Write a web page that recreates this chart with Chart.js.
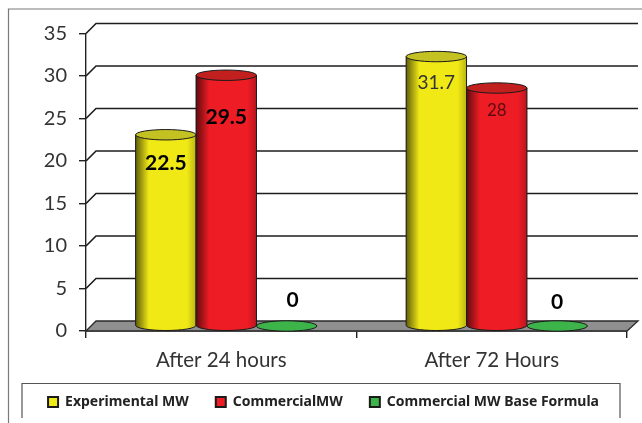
<!DOCTYPE html>
<html>
<head>
<meta charset="utf-8">
<style>
  html, body { margin: 0; padding: 0; background: #fff; overflow: hidden; }
  canvas { display: block; }
</style>
<script src="https://cdn.jsdelivr.net/npm/chart.js@4"></script>
</head>
<body>
<canvas id="mainChart" width="642" height="423"></canvas>
<script>
const categories = ['After 24 hours', 'After 72 Hours'];
const experimentalMW = [22.5, 31.7];
const commercialMW = [29.5, 28];
const baseFormulaMW = [0, 0];
const seriesNames = ['Experimental MW', 'CommercialMW', 'Commercial MW Base Formula'];
const seriesColors = ['#f0e916', '#ee1c25', '#3cb449'];
const topColors = ['#c4c223', '#c2201f', '#3cb449'];

const DEPTH = 10;      // how far the back wall sits from the front axes
const MID = DEPTH / 2; // cylinders stand in the middle of the floor
const RY = 5.2;        // ellipse half height

// label tweaks, [dataset][category]: dy from top of cylinder, dx, font
const labelDy = [[28, 26], [42, 23], [-26, -24]];
const labelDx = [[0, 0], [0, 0], [6, 0]];
const labelFont = [
  ['bold 21px Lato', '19px Lato'],
  ['bold 21px Lato', '17px Lato'],
  ['bold 21px Lato', 'bold 21px Lato']
];
const labelColor = [['#000', '#333'], ['#000', '#5a0d10'], ['#000', '#000']];

const wallsAndFrame = {
  id: 'wallsAndFrame',
  // legend sits a little right of the canvas centre in the original
  afterLayout(chart) {
    chart.legend.left += 10;
    chart.legend.right += 10;
  },
  beforeDatasetsDraw(chart) {
    const { ctx, chartArea: a, scales: { y } } = chart;
    ctx.save();
    // outer frame, runs off the picture
    ctx.strokeStyle = '#7a7a7a';
    ctx.lineWidth = 1.2;
    ctx.beginPath();
    ctx.moveTo(8.5, 423); ctx.lineTo(8.5, 9); ctx.lineTo(642, 9);
    ctx.stroke();
    // legend frame, open at the bottom
    ctx.strokeStyle = '#555';
    ctx.beginPath();
    ctx.moveTo(22, 418); ctx.lineTo(22, 383.5); ctx.lineTo(620, 383.5); ctx.lineTo(620, 418);
    ctx.stroke();
    // floor
    const y0 = y.getPixelForValue(0);
    ctx.fillStyle = '#8f8f8f';
    ctx.strokeStyle = '#2a2a2a';
    ctx.lineWidth = 1.3;
    ctx.beginPath();
    ctx.moveTo(a.left, y0);
    ctx.lineTo(a.left + DEPTH, y0 - DEPTH);
    ctx.lineTo(a.right + DEPTH + 1, y0 - DEPTH);
    ctx.lineTo(a.right, y0);
    ctx.closePath();
    ctx.fill(); ctx.stroke();
    // grid lines bent back on the side wall
    ctx.strokeStyle = '#1e1e1e';
    ctx.lineWidth = 1.6;
    y.ticks.forEach(t => {
      if (t.value === 0) return;
      const py = y.getPixelForValue(t.value);
      ctx.beginPath();
      ctx.moveTo(a.left, py);
      ctx.lineTo(a.left + DEPTH, py - DEPTH);
      ctx.lineTo(a.right + DEPTH + 1, py - DEPTH);
      ctx.stroke();
    });
    ctx.restore();
  },
  // keep the library's flat bars in the same place as the cylinders
  beforeDatasetDraw(chart) {
    chart.ctx.save();
    chart.ctx.translate(MID, -MID);
  },
  afterDatasetDraw(chart) {
    chart.ctx.restore();
  },
  afterDatasetsDraw(chart) {
    const { ctx } = chart;
    ctx.save();
    ctx.translate(MID, -MID);
    chart.data.datasets.forEach((ds, di) => {
      chart.getDatasetMeta(di).data.forEach((bar, i) => {
        const rx = bar.width / 2;
        const l = bar.x - rx, r = bar.x + rx;
        const top = bar.y, base = bar.base;
        ctx.lineWidth = 1;
        ctx.strokeStyle = '#1a1a1a';
        if (base - top > 1) {
          ctx.beginPath();
          ctx.moveTo(l, top);
          ctx.lineTo(l, base);
          ctx.ellipse(bar.x, base, rx, RY, 0, Math.PI, 0, true);
          ctx.lineTo(r, top);
          ctx.closePath();
          ctx.fillStyle = seriesColors[di];
          ctx.fill();
          const g = ctx.createLinearGradient(l, 0, r, 0);
          g.addColorStop(0, 'rgba(0,0,0,0.6)');
          g.addColorStop(0.22, 'rgba(0,0,0,0)');
          g.addColorStop(0.85, 'rgba(0,0,0,0)');
          g.addColorStop(1, 'rgba(0,0,0,0.22)');
          ctx.fillStyle = g;
          ctx.fill();
          ctx.stroke();
        }
        ctx.beginPath();
        ctx.ellipse(bar.x, top, rx, RY, 0, 0, Math.PI * 2);
        ctx.fillStyle = topColors[di];
        ctx.fill();
        ctx.stroke();
      });
    });
    ctx.restore();
    // value labels on top of everything
    ctx.save();
    ctx.textAlign = 'center';
    ctx.textBaseline = 'middle';
    chart.data.datasets.forEach((ds, di) => {
      chart.getDatasetMeta(di).data.forEach((bar, i) => {
        ctx.font = labelFont[di][i];
        ctx.fillStyle = labelColor[di][i];
        ctx.fillText(String(ds.data[i]), bar.x + MID + labelDx[di][i], bar.y - MID + labelDy[di][i]);
      });
    });
    ctx.restore();
  }
};

new Chart(document.getElementById('mainChart').getContext('2d'), {
  type: 'bar',
  data: {
    labels: categories,
    datasets: [experimentalMW, commercialMW, baseFormulaMW].map((values, i) => ({
      label: seriesNames[i],
      data: values,
      backgroundColor: seriesColors[i],
      borderColor: '#1a1a1a',
      borderWidth: 2,
      categoryPercentage: 0.67,
      barPercentage: 1
    }))
  },
  plugins: [wallsAndFrame],
  options: {
    responsive: false,
    animation: false,
    layout: { padding: { left: 0, right: 15, top: 33.5, bottom: 4 } },
    plugins: {
      tooltip: { enabled: false },
      legend: {
        position: 'bottom',
        labels: {
          boxWidth: 10,
          boxHeight: 10,
          padding: 27,
          color: '#222',
          font: { family: "'Noto Sans'", size: 14, weight: 'bold' }
        }
      }
    },
    scales: {
      x: {
        afterFit(scale) { scale.height = 37; },
        border: { color: '#222', width: 1.4 },
        grid: { drawOnChartArea: false, tickLength: 7, color: '#222', lineWidth: 1.4 },
        ticks: { color: '#333', padding: 10, font: { family: 'Lato', size: 20.5 } }
      },
      y: {
        min: 0,
        max: 35,
        afterFit(scale) { scale.width = 86; },
        border: { color: '#222', width: 1.4 },
        grid: { drawOnChartArea: false, tickLength: 7, color: '#222', lineWidth: 1.4 },
        ticks: { stepSize: 5, color: '#333', padding: 12, font: { family: 'Lato', size: 20 } }
      }
    }
  }
});
</script>
</body>
</html>
